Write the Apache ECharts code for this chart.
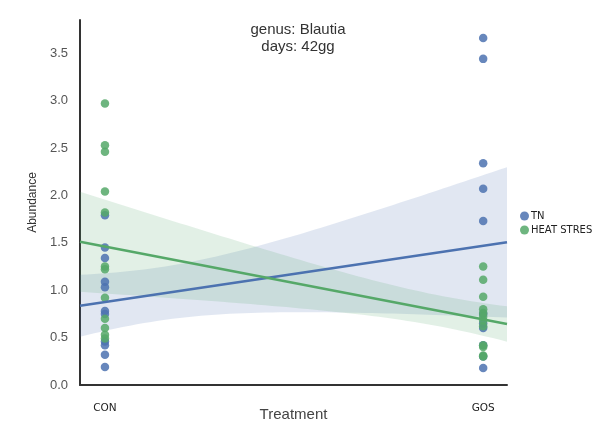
<!DOCTYPE html>
<html>
<head>
<meta charset="utf-8">
<script src="https://cdn.jsdelivr.net/npm/echarts@6/dist/echarts.min.js"></script>
<style>
  html, body { margin: 0; padding: 0; background: #ffffff; }
  #chart { width: 597px; height: 439px; }
</style>
</head>
<body>
<div id="chart"></div>
<script>
// Treatment groups on the x axis (CON = 0, GOS = 1)
const categories = ['CON', 'GOS'];
const seriesNames = ['TN', 'HEAT STRES'];

// Blautia abundance per animal, day 42
const tnCon = [1.79, 1.45, 1.34, 1.09, 1.03, 0.78, 0.75, 0.46, 0.42, 0.32, 0.19];
const tnGos = [3.66, 3.44, 2.34, 2.07, 1.73, 0.75, 0.65, 0.60, 0.42, 0.30, 0.18];
const hsCon = [2.97, 2.53, 2.46, 2.04, 1.82, 1.25, 1.22, 0.92, 0.70, 0.60, 0.53, 0.49];
const hsGos = [1.25, 1.11, 0.93, 0.80, 0.76, 0.72, 0.68, 0.62, 0.42, 0.40, 0.31, 0.30];

const colors = { tn: '#4c72b0', hs: '#55a868' };
const X_MIN = -0.066, X_MAX = 1.063;

const mean = a => a.reduce((s, v) => s + v, 0) / a.length;
const variance = a => { const m = mean(a); return a.reduce((s, v) => s + (v - m) * (v - m), 0) / (a.length - 1); };

// Least-squares fit on a 0/1 predictor, with a 95% band from the group standard errors
function fit(g0, g1) {
  const m0 = mean(g0), m1 = mean(g1);
  const s0 = variance(g0) / g0.length, s1 = variance(g1) / g1.length;
  const pred = x => m0 + (m1 - m0) * x;
  const steps = 60, upper = [], lower = [];
  for (let i = 0; i <= steps; i++) {
    const x = X_MIN + (X_MAX - X_MIN) * i / steps;
    const se = Math.sqrt((1 - x) * (1 - x) * s0 + x * x * s1);
    upper.push([x, pred(x) + 1.96 * se]);
    lower.push([x, pred(x) - 1.96 * se]);
  }
  return { line: [[X_MIN, pred(X_MIN)], [X_MAX, pred(X_MAX)]], upper, lower };
}

const tnFit = fit(tnCon, tnGos);
const hsFit = fit(hsCon, hsGos);

const points = (g0, g1) => g0.map(v => [0, v]).concat(g1.map(v => [1, v]));

function bandSeries(f, color, z) {
  return {
    type: 'custom', silent: true, z: z,
    data: [[0, 0]],
    renderItem: (params, api) => {
      const pts = f.upper.concat(f.lower.slice().reverse()).map(p => api.coord(p));
      return { type: 'polygon', shape: { points: pts }, style: { fill: color, opacity: 0.17 } };
    }
  };
}

const chart = echarts.init(document.getElementById('chart'), null, { renderer: 'canvas' });
chart.setOption({
  animation: false,
  backgroundColor: '#ffffff',
  title: {
    text: 'genus: Blautia\ndays: 42gg',
    left: 293, top: 16, textAlign: 'center',
    textStyle: { fontFamily: 'Liberation Sans', fontSize: 15, fontWeight: 'normal', color: '#333', lineHeight: 17 }
  },
  legend: {
    orient: 'vertical', left: 515, top: 206, itemGap: 4,
    itemWidth: 9, itemHeight: 9, icon: 'circle',
    data: seriesNames,
    textStyle: { fontFamily: 'DejaVu Sans', fontSize: 10, color: '#222', padding: [0, 0, 0, -3] }
  },
  grid: { left: 80, right: 90, top: 20, bottom: 54 },
  xAxis: {
    type: 'value', min: X_MIN, max: X_MAX,
    name: 'Treatment', nameLocation: 'middle', nameGap: 22, nameMoveOverlap: false,
    nameTextStyle: { fontFamily: 'Liberation Sans', fontSize: 15, color: '#444' },
    axisLine: { show: true, onZero: false, lineStyle: { color: '#333', width: 2 } },
    axisTick: { show: false },
    splitLine: { show: false },
    axisLabel: {
      customValues: [0, 1], margin: 18,
      formatter: v => categories[Math.round(v)],
      fontFamily: 'DejaVu Sans', fontSize: 10.5, color: '#222'
    }
  },
  yAxis: {
    type: 'value', min: 0, max: 3.85, interval: 0.5,
    name: 'Abundance', nameLocation: 'middle', nameGap: 40,
    nameTextStyle: { fontFamily: 'Liberation Sans', fontSize: 12, color: '#333' },
    axisLine: { show: true, onZero: false, lineStyle: { color: '#333', width: 2 } },
    axisTick: { show: false },
    splitLine: { show: false },
    axisLabel: {
      showMaxLabel: false, margin: 12,
      formatter: v => v.toFixed(1),
      fontFamily: 'Liberation Sans', fontSize: 13, color: '#555'
    }
  },
  series: [
    bandSeries(tnFit, colors.tn, 1),
    bandSeries(hsFit, colors.hs, 1),
    {
      name: seriesNames[0], type: 'scatter', z: 3,
      symbolSize: 8.5, itemStyle: { color: colors.tn, opacity: 0.85 },
      data: points(tnCon, tnGos)
    },
    {
      name: seriesNames[1], type: 'scatter', z: 3,
      symbolSize: 8.5, itemStyle: { color: colors.hs, opacity: 0.85 },
      data: points(hsCon, hsGos)
    },
    {
      type: 'line', z: 4, symbol: 'none', silent: true,
      lineStyle: { color: colors.tn, width: 2.5 },
      data: tnFit.line
    },
    {
      type: 'line', z: 4, symbol: 'none', silent: true,
      lineStyle: { color: colors.hs, width: 2.5 },
      data: hsFit.line
    }
  ]
});
</script>
</body>
</html>
